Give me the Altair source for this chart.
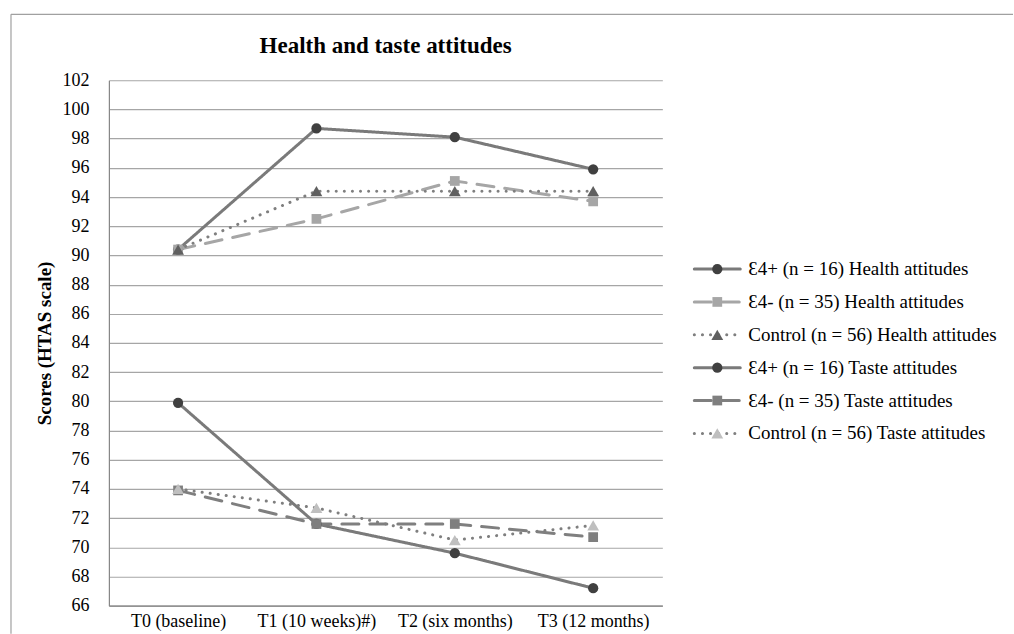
import altair as alt
import pandas as pd

# Measurement points
periods = ["T0 (baseline)", "T1 (10 weeks)#)", "T2 (six months)", "T3 (12 months)"]

# Series names, in legend order
series = [
    "Ɛ4+ (n = 16) Health attitudes",
    "Ɛ4- (n = 35) Health attitudes",
    "Control (n = 56) Health attitudes",
    "Ɛ4+ (n = 16) Taste attitudes",
    "Ɛ4- (n = 35) Taste attitudes",
    "Control (n = 56) Taste attitudes",
]

# HTAS scores per series
health_e4_pos = [90.4, 98.7, 98.1, 95.9]
health_e4_neg = [90.4, 92.5, 95.1, 93.7]
health_control = [90.4, 94.4, 94.4, 94.4]
taste_e4_pos = [79.9, 71.6, 69.6, 67.2]
taste_e4_neg = [73.9, 71.6, 71.6, 70.7]
taste_control = [74.0, 72.7, 70.5, 71.5]

values = [health_e4_pos, health_e4_neg, health_control,
          taste_e4_pos, taste_e4_neg, taste_control]

# Styling per series
line_colors = ["#7a7a7a", "#a6a6a6", "#7f7f7f", "#7a7a7a", "#7f7f7f", "#7f7f7f"]
marker_colors = ["#404040", "#a6a6a6", "#606060", "#404040", "#7f7f7f", "#bfbfbf"]
dashes = [[1, 0], [17, 11], [0.1, 8], [1, 0], [17, 11], [0.1, 8]]
shapes = ["circle", "square", "triangle-up", "circle", "square", "triangle-up"]
marker_sizes = [105, 95, 140, 105, 95, 140]

rows = []
for name, vals in zip(series, values):
    for i, (p, v) in enumerate(zip(periods, vals)):
        rows.append({"series": name, "period": p, "idx": i, "score": v})
df = pd.DataFrame(rows)

FONT = "Liberation Serif"

stroke_enc = alt.Stroke("series:N", scale=alt.Scale(domain=series, range=line_colors), legend=None)
dash_enc = alt.StrokeDash("series:N", scale=alt.Scale(domain=series, range=dashes), legend=None)
fill_enc = alt.Fill("series:N", scale=alt.Scale(domain=series, range=marker_colors), legend=None)
shape_enc = alt.Shape("series:N", scale=alt.Scale(domain=series, range=shapes), legend=None)
size_enc = alt.Size("series:N", scale=alt.Scale(type="ordinal", domain=series, range=marker_sizes), legend=None)

base = alt.Chart(df).encode(
    x=alt.X("period:N", sort=periods,
            scale=alt.Scale(type="point", domain=periods, padding=0.5),
            axis=alt.Axis(title=None, labelAngle=0, labelPadding=7, grid=False)),
    y=alt.Y("score:Q",
            scale=alt.Scale(domain=[66, 102], nice=False, zero=False),
            axis=alt.Axis(values=list(range(66, 103, 2)), title="Scores (HTAS scale)",
                          labelPadding=20, titlePadding=7, grid=True)),
)

lines = base.mark_line(strokeWidth=3, strokeCap="round").encode(
    stroke=stroke_enc, strokeDash=dash_enc, detail="series:N", order="idx:Q"
)
points = base.mark_point(filled=True, opacity=1, strokeWidth=0).encode(
    shape=shape_enc, fill=fill_enc, size=size_enc
)

main = alt.layer(lines, points).properties(
    width=554, height=526,
    title=alt.TitleParams("Health and taste attitudes", font=FONT, fontSize=23,
                          fontWeight="bold", color="#000", anchor="middle", offset=13),
)

# legend drawn as its own small panel
leg_df = pd.DataFrame({"series": series, "row": list(range(len(series)))})
leg_base = alt.Chart(leg_df).encode(
    y=alt.Y("row:Q", scale=alt.Scale(domain=[-5.745, 10.243], reverse=True, nice=False, zero=False),
            axis=None)
)
leg_x = alt.Scale(domain=[0, 6], nice=False, zero=False)
leg_lines = leg_base.mark_rule(strokeWidth=3, strokeCap="round").encode(
    x=alt.XDatum(0.04, scale=leg_x, axis=None), x2=alt.X2Datum(0.96),
    stroke=stroke_enc, strokeDash=dash_enc,
)
leg_marks = leg_base.mark_point(filled=True, opacity=1, strokeWidth=0).encode(
    x=alt.XDatum(0.5, scale=leg_x, axis=None), shape=shape_enc, fill=fill_enc, size=size_enc
)
leg_text = leg_base.mark_text(align="left", baseline="middle", font=FONT, fontSize=19, color="#000").encode(
    x=alt.XDatum(1.12, scale=leg_x, axis=None), text="series:N"
)

# chart-area frame (top and left edges), placed relative to this panel
frame_df = pd.DataFrame({"k": [0]})
frame_top = alt.Chart(frame_df).mark_rule(color="#a0a0a0", strokeWidth=1.2).encode(
    x=alt.value(-682), x2=alt.value(321), y=alt.value(-66)
)
frame_left = alt.Chart(frame_df).mark_rule(color="#a0a0a0", strokeWidth=1.2).encode(
    x=alt.value(-682), y=alt.value(-66), y2=alt.value(554)
)

legend = alt.layer(frame_top, frame_left, leg_lines, leg_marks, leg_text).properties(
    width=300, height=526
)

chart = alt.hconcat(main, legend, spacing=30, bounds="flush").properties(
    padding={"left": 10, "top": 13, "right": 0, "bottom": 0}
).configure_view(stroke=None).configure_axis(
    labelFont=FONT, labelFontSize=18, labelColor="#000",
    titleFont=FONT, titleFontSize=19, titleColor="#000", titleFontWeight="bold",
    domainColor="#868686", domainWidth=1.2, gridColor="#a6a6a6", gridWidth=1.2,
    ticks=False, tickSize=0,
)

chart.save("out.html", embed_options={"renderer": "svg", "actions": False})
